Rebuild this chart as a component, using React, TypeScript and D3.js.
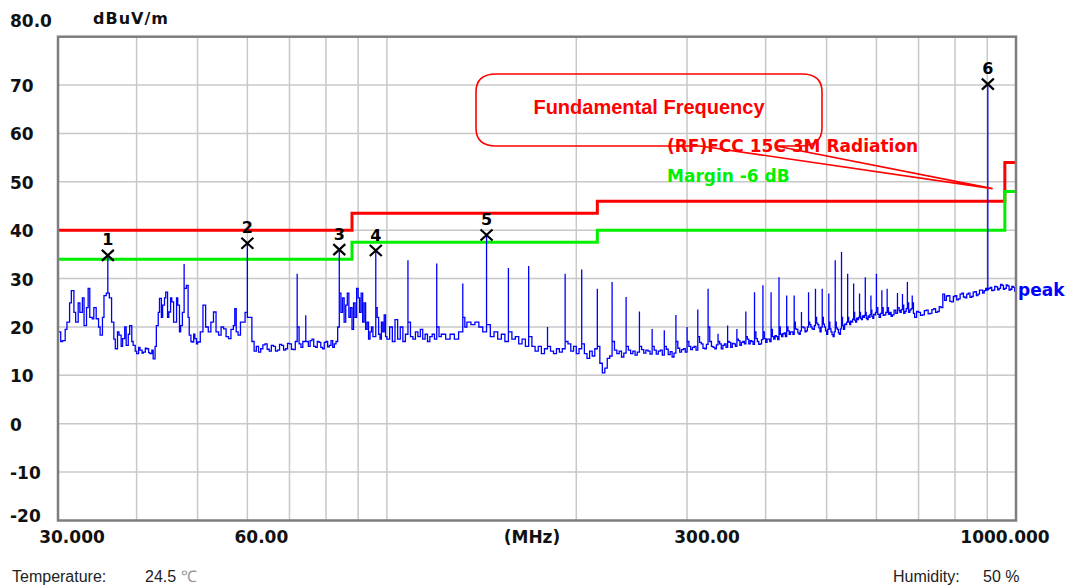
import React from "react";
import * as d3 from "d3";

// axis ticks
const yTicks = [80, 70, 60, 50, 40, 30, 20, 10, 0, -10, -20];
const yTickLabels = ["80.0", "70", "60", "50", "40", "30", "20", "10", "0", "-10", "-20"];
const xGridFreqs = [40, 50, 60, 70, 80, 90, 100, 200, 300, 400, 500, 600, 700, 800, 900];
const xLabelFreqs = [30, 60, 300, 1000];
const xLabelTexts = ["30.000", "60.00", "300.00", "1000.000"];

// FCC 15C limit and margin (step lines)
const limitFreqs = [30, 88, 216, 960, 1000];
const limitLevels = [40, 43.5, 46, 54, 54];
const marginLevels = [34, 37.5, 40, 48, 48];

// marked peaks
const markerIds = ["1", "2", "3", "4", "5", "6"];
const markerFreqs = [36, 60, 84, 96, 144, 902];
const markerLevels = [34.8, 37.3, 36.0, 35.8, 39.0, 70.2];

// harmonic spikes: frequency, level at base, level at top
const spikeFreqs = [36, 47.6, 60, 72, 74.3, 84, 96, 108, 120, 132, 144, 156, 168, 180, 192, 204, 216, 228, 240, 252, 264, 276, 288, 300, 312, 324, 336, 348, 360, 372, 384, 396, 408, 420, 432, 444, 456, 468, 480, 492, 504, 516, 528, 540, 552, 564, 576, 588, 600, 612, 624, 648, 660, 672, 684, 902];
const spikeBases = [27, 28, 22, 20, 17, 27, 24, 21, 20, 22, 20.5, 19, 18, 16, 17, 16.5, 16, 17, 16, 16, 16, 16, 17, 17, 18, 20, 17, 17, 17.5, 18, 19, 19, 19.5, 20, 20, 21, 20, 21, 22, 22, 21, 21, 22, 22, 23, 23, 23, 23.5, 24, 24, 24, 24, 24.5, 25, 25, 27.8];
const spikePeaks = [34.8, 33, 37.3, 31, 22.4, 36, 35.8, 33.8, 33.1, 29, 39, 32.2, 32.6, 20, 31, 31.9, 27.9, 29.3, 26.2, 23.2, 19.6, 19.3, 22.5, 20, 23.6, 27.9, 18.6, 20.3, 19.6, 23.2, 27.2, 28.6, 27.2, 30.3, 26.5, 26.5, 23.1, 27.2, 27.9, 27.9, 26.9, 33.8, 35.5, 31, 29, 26.9, 30.3, 26.5, 31, 27.6, 27.9, 27, 26.8, 29.3, 26.5, 70.2];

// peak trace between the spikes [MHz, dBuV/m]
const floorTrace: [number, number][] = [
  [30, 19], [30.3, 17], [30.5, 17.2], [30.8, 19.5], [31, 21], [31.3, 25], [31.5, 27.5], [31.8, 23], [32, 21], [32.3, 25],
  [32.5, 23], [32.8, 26], [33, 20.3], [33.3, 24], [33.5, 28], [33.7, 22], [34, 21.7], [34.2, 24], [34.5, 21.7], [34.8, 20],
  [35, 18.3], [35.3, 22], [35.5, 26.5], [35.8, 27], [36.2, 26], [36.5, 21], [36.8, 17.5], [37, 15.5], [37.3, 19], [37.5, 18.3],
  [37.8, 16], [38, 17.6], [38.3, 20], [38.5, 16.2], [38.8, 18.5], [39, 20.3], [39.3, 17], [39.5, 16.2], [39.8, 15], [40, 14.5],
  [40.3, 15.8], [40.5, 15.2], [40.8, 14.6], [41, 14.8], [41.3, 15.6], [41.5, 15.5], [41.8, 14.7], [42, 14.5], [42.3, 15.2], [42.5, 13.4],
  [42.8, 16], [43, 20.3], [43.3, 23], [43.5, 25.9], [43.8, 22], [44, 24.5], [44.3, 26], [44.5, 27.2], [44.8, 22], [45, 23.1],
  [45.3, 26], [45.5, 25.2], [45.8, 21], [46, 21], [46.3, 26], [46.5, 24.5], [46.8, 19], [47, 20.3], [47.3, 23], [48, 28.6],
  [48.3, 22], [48.5, 18.3], [48.8, 17], [49, 16.9], [49.3, 18.5], [49.5, 17.6], [49.8, 16.5], [50, 16.9], [50.5, 19], [51, 24.5],
  [51.5, 20], [52, 19], [52.5, 21], [53, 23.1], [53.5, 19], [54, 18.3], [54.5, 20], [55, 19.6], [55.5, 18], [56, 17.6],
  [56.5, 19.5], [57, 20.3], [57.3, 23.8], [57.6, 19], [58, 18.3], [58.5, 21], [59, 21], [59.5, 23], [60.5, 22], [61, 17],
  [61.5, 15], [62, 16], [62.5, 14.8], [63, 15.5], [63.5, 16.3], [64, 16.5], [64.5, 15.4], [65, 15], [65.5, 16.2], [66, 16],
  [66.5, 15], [67, 15.2], [67.5, 16.4], [68, 16.2], [68.5, 15.2], [69, 15.5], [69.5, 16.6], [70, 16.5], [70.5, 15.4], [71, 15.3],
  [71.5, 17], [72.5, 16.5], [73, 15.8], [73.5, 17], [75, 16], [75.5, 17.2], [76, 17.5], [76.5, 16], [77, 15.8], [77.5, 17],
  [78, 16.8], [78.5, 15.8], [79, 15.5], [79.5, 16.8], [80, 17], [80.5, 15.9], [81, 16.2], [81.5, 17.2], [82, 15.8], [82.5, 16.5],
  [83, 17], [83.5, 20], [84.5, 23], [85, 26], [85.5, 21], [86, 24.5], [86.5, 27], [87, 22], [87.5, 24], [88, 19.5],
  [88.5, 25], [89, 22], [89.5, 28], [90, 26], [90.5, 23], [91, 27], [91.5, 21], [92, 25], [92.5, 19.5], [93, 21],
  [93.5, 17.5], [94, 19], [94.5, 20], [95, 18], [96.5, 22], [97, 18.5], [97.5, 17.5], [98, 21], [98.5, 19], [99, 22.5],
  [99.5, 18], [100, 17.5], [101, 20], [102, 17], [103, 21.5], [104, 17.5], [105, 20], [106, 17], [107, 18.5], [109, 18],
  [110, 17.5], [111, 19], [112, 18], [113, 19.5], [114, 17.5], [115, 18.5], [116, 17], [117, 18], [118, 18.5], [119, 17.5],
  [121, 18], [122, 18.5], [124, 17.5], [126, 18.5], [128, 17.5], [130, 19], [133, 20], [134, 21], [136, 20.5], [138, 21],
  [140, 20], [142, 19], [146, 18], [148, 19], [150, 17.5], [152, 18.5], [154, 17], [158, 17.5], [160, 18], [162, 16.5],
  [164, 17.5], [166, 16], [170, 16], [172, 15], [174, 16], [176, 14.5], [178, 15.5], [182, 15], [184, 14.5], [186, 15.5],
  [188, 14.8], [190, 15.5], [194, 16.5], [196, 15], [198, 16], [200, 14.5], [202, 15.5], [206, 14.5], [208, 13.5], [210, 15],
  [212, 14], [214, 15.5], [218, 12.5], [220, 10.5], [222, 11.5], [224, 13.5], [226, 14], [230, 15.2], [232, 14.5], [234, 15],
  [236, 13.8], [238, 14.6], [242, 15.2], [244, 14.5], [246, 15], [248, 14.2], [250, 14.8], [254, 15.3], [256, 14.6], [258, 15.2],
  [260, 15], [262, 14.4], [266, 15.2], [268, 14.4], [270, 15], [272, 15.2], [274, 14.2], [278, 15.4], [280, 14.3], [282, 14.9],
  [284, 13.8], [286, 14.6], [290, 15.6], [292, 14.8], [294, 15.3], [296, 15.5], [298, 14.8], [302, 16], [304, 15.3], [306, 15.8],
  [308, 16], [310, 15.2], [314, 16.8], [316, 16.5], [318, 15.6], [320, 15.5], [322, 16.4], [326, 17], [328, 16], [330, 15.8],
  [332, 15.5], [334, 16.3], [338, 16.5], [340, 15.5], [342, 16.2], [344, 16.5], [346, 15.8], [350, 16.8], [352, 15.8], [354, 16.6],
  [356, 16.5], [358, 16], [362, 17.2], [364, 16.2], [366, 16.8], [368, 17], [370, 16.5], [374, 17.5], [376, 16.5], [378, 17.2],
  [380, 17], [382, 16.4], [386, 17.6], [388, 17], [390, 16.4], [392, 16.5], [394, 17.4], [398, 17.6], [400, 16.8], [402, 17.5],
  [404, 17.5], [406, 17], [410, 18], [412, 17.5], [414, 18.2], [416, 18], [418, 17.4], [422, 18.5], [424, 18], [426, 18.6],
  [428, 18.8], [430, 18], [434, 19.2], [436, 18.5], [438, 19], [440, 19], [442, 18.5], [446, 19.6], [448, 19.5], [450, 18.8],
  [452, 18.5], [454, 19.2], [458, 20], [460, 19.8], [462, 19], [464, 19.2], [466, 20], [470, 20.5], [472, 20], [474, 19.6],
  [476, 19.5], [478, 20.3], [482, 20.8], [484, 20.5], [486, 19.8], [488, 19], [490, 20], [494, 20.6], [496, 20], [498, 19.2],
  [500, 18.5], [502, 19.5], [506, 19.6], [508, 19], [510, 18.4], [512, 18], [514, 19], [518, 19.8], [520, 19.5], [522, 18.8],
  [524, 18.5], [526, 19.6], [530, 20.3], [532, 19.5], [534, 20.6], [536, 20.5], [538, 21], [542, 21], [544, 20.5], [546, 21.2],
  [548, 21], [550, 21.6], [554, 21.4], [556, 21], [558, 21.8], [560, 21.5], [562, 22], [566, 21.8], [568, 21.5], [570, 22.3],
  [572, 22], [574, 22.4], [578, 21.8], [580, 21.5], [582, 22.3], [584, 22], [586, 22.6], [590, 22.2], [592, 21.8], [594, 22.6],
  [596, 22.5], [598, 23], [603, 22.6], [606, 22], [609, 22.8], [615, 22.4], [618, 22.5], [621, 23], [627, 22.6], [630, 23],
  [633, 22.2], [636, 22.5], [640, 23.5], [644, 22.8], [652, 23.4], [654, 23], [657, 23.6], [663, 22.8], [666, 23.2], [669, 23.8],
  [675, 23], [678, 23.5], [681, 23.8], [687, 22.8], [690, 22], [695, 23.2], [700, 23], [705, 22.4], [710, 22.5], [715, 23.4],
  [720, 23.5], [725, 22.7], [730, 22.8], [735, 23.6], [740, 23.8], [745, 23], [750, 23.2], [755, 24.2], [760, 24], [765, 26.8],
  [770, 25.5], [775, 26.4], [780, 26.5], [785, 25.3], [790, 25.2], [795, 26.3], [800, 26.5], [805, 25.6], [810, 25.8], [815, 26.8],
  [820, 27], [825, 26.2], [830, 26], [835, 26.8], [840, 27], [845, 26.1], [850, 26.3], [855, 27.2], [860, 27.3], [865, 26.5],
  [870, 26.8], [875, 27.6], [880, 27.6], [885, 27], [890, 27.5], [895, 28], [899, 27.6], [905, 28], [910, 28.2], [915, 27.5],
  [920, 27.6], [925, 28.4], [930, 28.3], [935, 27.7], [940, 28], [945, 28.8], [950, 28.6], [955, 27.8], [960, 28], [965, 28.7],
  [970, 28.5], [975, 27.6], [980, 27.8], [985, 28.4], [990, 28.2], [995, 27.4], [1000, 27],
];

const RED = "#ff0000";
const GREEN = "#00f000";
const BLUE = "#0000ff";
const LABEL_FONT = "'DejaVu Sans', sans-serif";

export default function App() {
  const x = d3.scaleLog().domain([30, 1000]).range([58, 1016]);
  const y = d3.scaleLinear().domain([-20, 80]).range([520.5, 36.7]);

  const stepLine = d3
    .line<[number, number]>()
    .x((d) => x(d[0]))
    .y((d) => y(d[1]))
    .curve(d3.curveStepAfter);

  // merge floor points and spikes into one sweep, ordered by frequency
  const sweep: [number, number][] = [...floorTrace];
  spikeFreqs.forEach((f, i) => {
    sweep.push([f, spikeBases[i]], [f, spikePeaks[i]], [f, spikeBases[i]]);
  });
  sweep.sort((a, b) => a[0] - b[0]);

  const limitPts = limitFreqs.map((f, i) => [f, limitLevels[i]] as [number, number]);
  const marginPts = limitFreqs.map((f, i) => [f, marginLevels[i]] as [number, number]);

  const xLabelDx = [14, 14, 20, -11];

  // callout with its pointer to the fundamental
  const tipX = x(918);
  const tipY = y(48.6);
  const callout = `M496,74 L802,74 Q822,74 822,92 L822,128 Q822,146 800,146 L776,146 L${tipX},${tipY} L700,146 L496,146 Q476,146 476,128 L476,92 Q476,74 496,74 Z`;

  return (
    <div style={{ position: "absolute", left: 0, top: 0 }}>
      <svg width={1071} height={587} style={{ display: "block", background: "#fff" }}>
        {/* grid */}
        <g stroke="#c8c8c8" strokeWidth={1.5}>
          {yTicks.slice(1, -1).map((t) => (
            <line key={"h" + t} x1={x(30)} x2={x(1000)} y1={y(t)} y2={y(t)} />
          ))}
          {xGridFreqs.map((f) => (
            <line key={"v" + f} x1={x(f)} x2={x(f)} y1={y(80)} y2={y(-20)} />
          ))}
        </g>

        {/* limit lines */}
        <path d={stepLine(limitPts) || ""} fill="none" stroke={RED} strokeWidth={3} />
        <path d={stepLine(marginPts) || ""} fill="none" stroke={GREEN} strokeWidth={3} />

        {/* measured trace, sample-and-hold like the receiver plot */}
        <path d={stepLine(sweep) || ""} fill="none" stroke={BLUE} strokeWidth={1.3} />

        {/* frame */}
        <rect
          x={x(30)}
          y={y(80)}
          width={x(1000) - x(30)}
          height={y(-20) - y(80)}
          fill="none"
          stroke="#7d7d7d"
          strokeWidth={2.5}
        />

        {/* markers */}
        {markerFreqs.map((f, i) => {
          const cx = x(f);
          const cy = y(markerLevels[i]);
          return (
            <g key={"m" + i}>
              <path
                d={`M${cx - 6},${cy - 5.5} L${cx + 6},${cy + 5.5} M${cx + 6},${cy - 5.5} L${cx - 6},${cy + 5.5}`}
                stroke="#000"
                strokeWidth={2.2}
              />
              <text
                x={cx}
                y={cy - 10}
                textAnchor="middle"
                fontFamily={LABEL_FONT}
                fontWeight="bold"
                fontSize={16}
                fill="#000"
              >
                {markerIds[i]}
              </text>
            </g>
          );
        })}

        {/* annotation */}
        <path d={callout} fill="none" stroke={RED} strokeWidth={1.6} />
        <text x={649} y={114} textAnchor="middle" fontFamily="'Liberation Sans', Arial, sans-serif" fontWeight="bold" fontSize={20} fill={RED}>
          Fundamental Frequency
        </text>
        <text x={667} y={152} fontFamily={LABEL_FONT} fontWeight="bold" fontSize={17} fill={RED}>
          (RF)FCC 15C 3M Radiation
        </text>
        <text x={667} y={182} fontFamily={LABEL_FONT} fontWeight="bold" fontSize={17} fill={GREEN}>
          Margin -6 dB
        </text>
        <text x={x(1000) + 2} y={y(27.6) + 6} fontFamily={LABEL_FONT} fontWeight="bold" fontSize={17} fill={BLUE}>
          peak
        </text>

        {/* y axis labels */}
        <g fontFamily={LABEL_FONT} fontWeight="bold" fontSize={17} fill="#111">
          {yTicks.map((t, i) => (
            <text key={"yl" + t} x={10} y={t === 80 ? y(t) - 10 : t === -20 ? y(t) + 1 : y(t) + 7}>
              {yTickLabels[i]}
            </text>
          ))}
          <text x={93} y={24} fontSize={16} letterSpacing={1}>
            dBuV/m
          </text>
        </g>

        {/* x axis labels */}
        <g fontFamily={LABEL_FONT} fontWeight="bold" fontSize={17} fill="#111" textAnchor="middle">
          {xLabelFreqs.map((f, i) => (
            <text key={"xl" + f} x={x(f) + xLabelDx[i]} y={543}>
              {xLabelTexts[i]}
            </text>
          ))}
          <text x={532} y={543}>(MHz)</text>
        </g>

        {/* footer */}
        <g fontFamily="'Liberation Sans', Arial, sans-serif" fontSize={16} fill="#222">
          <text x={12} y={582}>Temperature:</text>
          <text x={145} y={582}>
            24.5 <tspan fill="#999">℃</tspan>
          </text>
          <text x={893} y={582}>Humidity:</text>
          <text x={983} y={582}>50 %</text>
        </g>
      </svg>
    </div>
  );
}
